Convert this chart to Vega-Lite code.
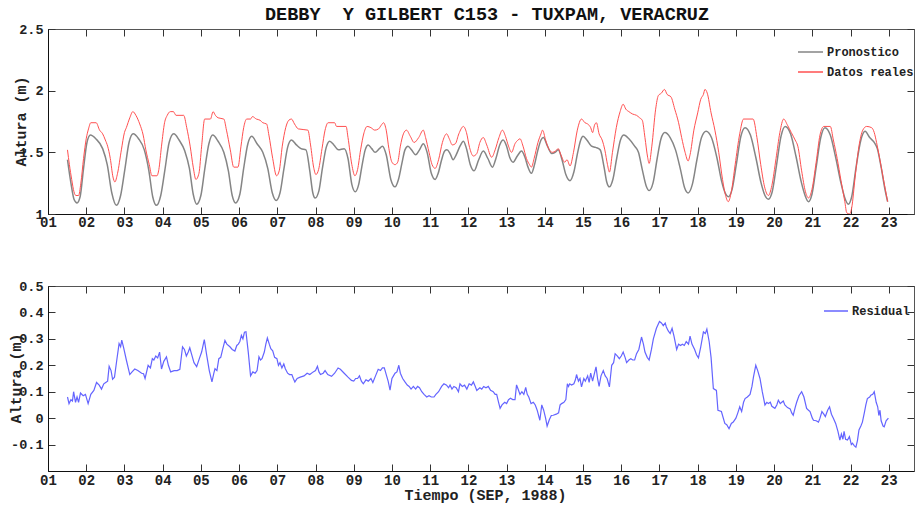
{
  "$schema": "https://vega.github.io/schema/vega-lite/v6.json",
  "padding": {"left": 7, "top": 4, "right": 0, "bottom": 0},
  "background": "white",
  "config": {
    "view": {"stroke": "#555"},
    "font": "Liberation Mono",
    "axis": {
      "grid": false,
      "domainColor": "#111",
      "tickColor": "#333",
      "tickSize": -7,
      "labelFont": "Liberation Mono",
      "labelFontWeight": "bold",
      "labelFontSize": 13.5,
      "labelColor": "#222",
      "labelFlush": false,
      "titleFont": "Liberation Mono",
      "titleFontWeight": "bold",
      "titleFontSize": 15,
      "titleColor": "#222"
    }
  },
  "datasets": {
    "pron": [
      {"t":1.51,"v":1.44},{"t":1.60,"v":1.25},{"t":1.68,"v":1.12},{"t":1.76,"v":1.09},{"t":1.84,"v":1.14},{"t":1.93,"v":1.37},{"t":2.02,"v":1.58},{"t":2.11,"v":1.64},{"t":2.25,"v":1.61},{"t":2.43,"v":1.53},{"t":2.55,"v":1.40},{"t":2.67,"v":1.17},{"t":2.79,"v":1.07},{"t":2.90,"v":1.15},{"t":3.01,"v":1.36},{"t":3.12,"v":1.58},{"t":3.23,"v":1.65},{"t":3.37,"v":1.61},{"t":3.52,"v":1.52},{"t":3.64,"v":1.35},{"t":3.74,"v":1.14},{"t":3.84,"v":1.07},{"t":3.95,"v":1.15},{"t":4.06,"v":1.36},{"t":4.17,"v":1.58},{"t":4.29,"v":1.65},{"t":4.43,"v":1.60},{"t":4.58,"v":1.51},{"t":4.70,"v":1.37},{"t":4.80,"v":1.16},{"t":4.89,"v":1.08},{"t":5.00,"v":1.15},{"t":5.10,"v":1.36},{"t":5.21,"v":1.57},{"t":5.31,"v":1.64},{"t":5.45,"v":1.59},{"t":5.60,"v":1.50},{"t":5.72,"v":1.35},{"t":5.82,"v":1.15},{"t":5.91,"v":1.09},{"t":6.02,"v":1.16},{"t":6.12,"v":1.37},{"t":6.23,"v":1.57},{"t":6.33,"v":1.63},{"t":6.47,"v":1.57},{"t":6.62,"v":1.50},{"t":6.75,"v":1.37},{"t":6.87,"v":1.17},{"t":6.97,"v":1.11},{"t":7.07,"v":1.17},{"t":7.17,"v":1.36},{"t":7.27,"v":1.54},{"t":7.37,"v":1.60},{"t":7.50,"v":1.56},{"t":7.62,"v":1.53},{"t":7.75,"v":1.52},{"t":7.85,"v":1.35},{"t":7.93,"v":1.17},{"t":7.99,"v":1.13},{"t":8.09,"v":1.19},{"t":8.18,"v":1.37},{"t":8.28,"v":1.54},{"t":8.37,"v":1.59},{"t":8.48,"v":1.56},{"t":8.60,"v":1.52},{"t":8.75,"v":1.53},{"t":8.85,"v":1.45},{"t":8.95,"v":1.24},{"t":9.04,"v":1.18},{"t":9.13,"v":1.24},{"t":9.21,"v":1.38},{"t":9.30,"v":1.52},{"t":9.38,"v":1.56},{"t":9.47,"v":1.53},{"t":9.56,"v":1.50},{"t":9.67,"v":1.53},{"t":9.75,"v":1.55},{"t":9.85,"v":1.48},{"t":9.97,"v":1.28},{"t":10.08,"v":1.22},{"t":10.17,"v":1.28},{"t":10.26,"v":1.41},{"t":10.34,"v":1.52},{"t":10.42,"v":1.55},{"t":10.51,"v":1.52},{"t":10.62,"v":1.48},{"t":10.72,"v":1.52},{"t":10.82,"v":1.57},{"t":10.92,"v":1.50},{"t":11.03,"v":1.33},{"t":11.13,"v":1.28},{"t":11.21,"v":1.33},{"t":11.30,"v":1.44},{"t":11.38,"v":1.51},{"t":11.44,"v":1.52},{"t":11.52,"v":1.49},{"t":11.60,"v":1.44},{"t":11.68,"v":1.48},{"t":11.78,"v":1.55},{"t":11.87,"v":1.59},{"t":11.95,"v":1.53},{"t":12.05,"v":1.40},{"t":12.15,"v":1.35},{"t":12.27,"v":1.44},{"t":12.39,"v":1.51},{"t":12.51,"v":1.45},{"t":12.63,"v":1.38},{"t":12.72,"v":1.45},{"t":12.82,"v":1.56},{"t":12.91,"v":1.60},{"t":13.00,"v":1.55},{"t":13.08,"v":1.46},{"t":13.17,"v":1.42},{"t":13.28,"v":1.47},{"t":13.39,"v":1.51},{"t":13.48,"v":1.46},{"t":13.56,"v":1.38},{"t":13.65,"v":1.33},{"t":13.73,"v":1.40},{"t":13.82,"v":1.52},{"t":13.90,"v":1.60},{"t":13.96,"v":1.62},{"t":14.07,"v":1.55},{"t":14.18,"v":1.49},{"t":14.27,"v":1.50},{"t":14.35,"v":1.52},{"t":14.45,"v":1.44},{"t":14.55,"v":1.32},{"t":14.66,"v":1.27},{"t":14.76,"v":1.34},{"t":14.86,"v":1.50},{"t":14.94,"v":1.60},{"t":15.00,"v":1.63},{"t":15.10,"v":1.60},{"t":15.22,"v":1.55},{"t":15.33,"v":1.54},{"t":15.45,"v":1.52},{"t":15.55,"v":1.38},{"t":15.62,"v":1.26},{"t":15.69,"v":1.22},{"t":15.78,"v":1.28},{"t":15.88,"v":1.45},{"t":15.98,"v":1.60},{"t":16.07,"v":1.64},{"t":16.20,"v":1.61},{"t":16.35,"v":1.55},{"t":16.45,"v":1.50},{"t":16.55,"v":1.36},{"t":16.65,"v":1.23},{"t":16.73,"v":1.19},{"t":16.83,"v":1.25},{"t":16.94,"v":1.45},{"t":17.04,"v":1.61},{"t":17.14,"v":1.66},{"t":17.28,"v":1.62},{"t":17.42,"v":1.52},{"t":17.55,"v":1.36},{"t":17.66,"v":1.21},{"t":17.75,"v":1.17},{"t":17.86,"v":1.24},{"t":17.98,"v":1.44},{"t":18.10,"v":1.62},{"t":18.22,"v":1.67},{"t":18.36,"v":1.62},{"t":18.50,"v":1.46},{"t":18.63,"v":1.26},{"t":18.72,"v":1.17},{"t":18.80,"v":1.14},{"t":18.90,"v":1.20},{"t":19.01,"v":1.40},{"t":19.13,"v":1.63},{"t":19.24,"v":1.70},{"t":19.38,"v":1.64},{"t":19.52,"v":1.46},{"t":19.66,"v":1.25},{"t":19.76,"v":1.15},{"t":19.85,"v":1.12},{"t":19.95,"v":1.18},{"t":20.06,"v":1.39},{"t":20.18,"v":1.63},{"t":20.29,"v":1.71},{"t":20.43,"v":1.65},{"t":20.57,"v":1.47},{"t":20.71,"v":1.26},{"t":20.81,"v":1.15},{"t":20.90,"v":1.10},{"t":20.99,"v":1.16},{"t":21.10,"v":1.38},{"t":21.22,"v":1.62},{"t":21.33,"v":1.70},{"t":21.47,"v":1.64},{"t":21.61,"v":1.46},{"t":21.75,"v":1.25},{"t":21.85,"v":1.13},{"t":21.94,"v":1.08},{"t":22.03,"v":1.14},{"t":22.14,"v":1.37},{"t":22.27,"v":1.60},{"t":22.38,"v":1.67},{"t":22.50,"v":1.62},{"t":22.62,"v":1.58},{"t":22.70,"v":1.53},{"t":22.80,"v":1.38},{"t":22.90,"v":1.20},{"t":22.97,"v":1.10}
    ],
    "real": [
      {"t":1.51,"v":1.52},{"t":1.56,"v":1.40},{"t":1.62,"v":1.28},{"t":1.68,"v":1.18},{"t":1.73,"v":1.15},{"t":1.80,"v":1.15},{"t":1.86,"v":1.25},{"t":1.93,"v":1.45},{"t":2.00,"v":1.61},{"t":2.06,"v":1.69},{"t":2.12,"v":1.74},{"t":2.26,"v":1.74},{"t":2.35,"v":1.68},{"t":2.43,"v":1.65},{"t":2.50,"v":1.60},{"t":2.56,"v":1.55},{"t":2.63,"v":1.45},{"t":2.70,"v":1.30},{"t":2.75,"v":1.26},{"t":2.82,"v":1.33},{"t":2.92,"v":1.52},{"t":3.00,"v":1.66},{"t":3.05,"v":1.70},{"t":3.14,"v":1.78},{"t":3.22,"v":1.83},{"t":3.30,"v":1.80},{"t":3.40,"v":1.73},{"t":3.49,"v":1.64},{"t":3.56,"v":1.52},{"t":3.65,"v":1.40},{"t":3.72,"v":1.31},{"t":3.85,"v":1.31},{"t":3.90,"v":1.36},{"t":3.97,"v":1.55},{"t":4.05,"v":1.74},{"t":4.12,"v":1.80},{"t":4.20,"v":1.83},{"t":4.28,"v":1.83},{"t":4.35,"v":1.80},{"t":4.55,"v":1.80},{"t":4.63,"v":1.70},{"t":4.72,"v":1.55},{"t":4.80,"v":1.38},{"t":4.87,"v":1.28},{"t":4.95,"v":1.33},{"t":5.02,"v":1.55},{"t":5.10,"v":1.77},{"t":5.25,"v":1.77},{"t":5.32,"v":1.83},{"t":5.38,"v":1.80},{"t":5.45,"v":1.78},{"t":5.60,"v":1.77},{"t":5.67,"v":1.68},{"t":5.77,"v":1.52},{"t":5.86,"v":1.38},{"t":5.97,"v":1.38},{"t":6.05,"v":1.55},{"t":6.12,"v":1.70},{"t":6.20,"v":1.77},{"t":6.30,"v":1.77},{"t":6.35,"v":1.79},{"t":6.45,"v":1.77},{"t":6.55,"v":1.76},{"t":6.62,"v":1.74},{"t":6.72,"v":1.73},{"t":6.78,"v":1.64},{"t":6.88,"v":1.45},{"t":6.98,"v":1.31},{"t":7.05,"v":1.35},{"t":7.13,"v":1.55},{"t":7.22,"v":1.70},{"t":7.30,"v":1.76},{"t":7.37,"v":1.77},{"t":7.45,"v":1.73},{"t":7.55,"v":1.69},{"t":7.80,"v":1.68},{"t":7.87,"v":1.56},{"t":7.95,"v":1.38},{"t":8.01,"v":1.32},{"t":8.08,"v":1.36},{"t":8.17,"v":1.53},{"t":8.25,"v":1.68},{"t":8.33,"v":1.74},{"t":8.50,"v":1.74},{"t":8.55,"v":1.71},{"t":8.80,"v":1.71},{"t":8.85,"v":1.62},{"t":8.95,"v":1.40},{"t":9.03,"v":1.31},{"t":9.10,"v":1.36},{"t":9.18,"v":1.52},{"t":9.27,"v":1.66},{"t":9.35,"v":1.71},{"t":9.45,"v":1.70},{"t":9.55,"v":1.68},{"t":9.65,"v":1.69},{"t":9.72,"v":1.72},{"t":9.78,"v":1.74},{"t":9.85,"v":1.68},{"t":9.92,"v":1.53},{"t":10.00,"v":1.42},{"t":10.08,"v":1.40},{"t":10.15,"v":1.42},{"t":10.22,"v":1.55},{"t":10.30,"v":1.65},{"t":10.38,"v":1.68},{"t":10.48,"v":1.63},{"t":10.58,"v":1.58},{"t":10.70,"v":1.62},{"t":10.82,"v":1.68},{"t":10.88,"v":1.62},{"t":10.97,"v":1.50},{"t":11.05,"v":1.40},{"t":11.13,"v":1.37},{"t":11.22,"v":1.44},{"t":11.32,"v":1.58},{"t":11.43,"v":1.65},{"t":11.50,"v":1.61},{"t":11.58,"v":1.56},{"t":11.66,"v":1.57},{"t":11.75,"v":1.65},{"t":11.87,"v":1.71},{"t":11.95,"v":1.66},{"t":12.03,"v":1.54},{"t":12.13,"v":1.47},{"t":12.22,"v":1.49},{"t":12.30,"v":1.58},{"t":12.39,"v":1.62},{"t":12.48,"v":1.56},{"t":12.61,"v":1.46},{"t":12.70,"v":1.52},{"t":12.80,"v":1.62},{"t":12.89,"v":1.68},{"t":12.97,"v":1.63},{"t":13.05,"v":1.55},{"t":13.13,"v":1.50},{"t":13.22,"v":1.57},{"t":13.30,"v":1.60},{"t":13.35,"v":1.61},{"t":13.43,"v":1.55},{"t":13.52,"v":1.45},{"t":13.60,"v":1.40},{"t":13.65,"v":1.38},{"t":13.72,"v":1.45},{"t":13.82,"v":1.58},{"t":13.90,"v":1.65},{"t":13.94,"v":1.68},{"t":14.02,"v":1.60},{"t":14.10,"v":1.53},{"t":14.20,"v":1.50},{"t":14.28,"v":1.51},{"t":14.35,"v":1.53},{"t":14.42,"v":1.48},{"t":14.52,"v":1.42},{"t":14.58,"v":1.44},{"t":14.66,"v":1.39},{"t":14.75,"v":1.50},{"t":14.85,"v":1.68},{"t":14.96,"v":1.77},{"t":15.05,"v":1.74},{"t":15.12,"v":1.73},{"t":15.20,"v":1.70},{"t":15.25,"v":1.66},{"t":15.30,"v":1.72},{"t":15.35,"v":1.74},{"t":15.42,"v":1.65},{"t":15.50,"v":1.60},{"t":15.57,"v":1.52},{"t":15.64,"v":1.40},{"t":15.69,"v":1.34},{"t":15.77,"v":1.50},{"t":15.87,"v":1.70},{"t":15.97,"v":1.83},{"t":16.05,"v":1.89},{"t":16.12,"v":1.85},{"t":16.20,"v":1.83},{"t":16.30,"v":1.81},{"t":16.40,"v":1.80},{"t":16.48,"v":1.78},{"t":16.55,"v":1.76},{"t":16.62,"v":1.62},{"t":16.69,"v":1.46},{"t":16.73,"v":1.41},{"t":16.80,"v":1.55},{"t":16.90,"v":1.85},{"t":16.97,"v":1.96},{"t":17.05,"v":1.98},{"t":17.13,"v":2.01},{"t":17.20,"v":1.97},{"t":17.30,"v":1.95},{"t":17.40,"v":1.85},{"t":17.50,"v":1.74},{"t":17.58,"v":1.62},{"t":17.67,"v":1.50},{"t":17.75,"v":1.43},{"t":17.80,"v":1.48},{"t":17.90,"v":1.68},{"t":18.00,"v":1.82},{"t":18.08,"v":1.93},{"t":18.15,"v":1.97},{"t":18.19,"v":2.01},{"t":18.25,"v":1.98},{"t":18.35,"v":1.82},{"t":18.45,"v":1.68},{"t":18.55,"v":1.50},{"t":18.65,"v":1.28},{"t":18.73,"v":1.15},{"t":18.80,"v":1.10},{"t":18.88,"v":1.18},{"t":18.98,"v":1.40},{"t":19.10,"v":1.65},{"t":19.20,"v":1.77},{"t":19.45,"v":1.77},{"t":19.55,"v":1.62},{"t":19.65,"v":1.40},{"t":19.75,"v":1.22},{"t":19.85,"v":1.15},{"t":19.94,"v":1.23},{"t":20.05,"v":1.45},{"t":20.15,"v":1.66},{"t":20.25,"v":1.77},{"t":20.35,"v":1.72},{"t":20.45,"v":1.66},{"t":20.55,"v":1.60},{"t":20.62,"v":1.55},{"t":20.72,"v":1.35},{"t":20.82,"v":1.18},{"t":20.90,"v":1.13},{"t":20.99,"v":1.20},{"t":21.10,"v":1.42},{"t":21.20,"v":1.64},{"t":21.30,"v":1.71},{"t":21.47,"v":1.71},{"t":21.55,"v":1.60},{"t":21.65,"v":1.45},{"t":21.75,"v":1.27},{"t":21.85,"v":1.10},{"t":21.90,"v":1.01},{"t":21.97,"v":1.00},{"t":22.03,"v":1.05},{"t":22.12,"v":1.30},{"t":22.22,"v":1.55},{"t":22.32,"v":1.68},{"t":22.42,"v":1.71},{"t":22.55,"v":1.70},{"t":22.62,"v":1.66},{"t":22.68,"v":1.58},{"t":22.75,"v":1.47},{"t":22.85,"v":1.30},{"t":22.97,"v":1.10}
    ],
    "resid": [
      {"t":1.51,"v":0.08},{"t":1.55,"v":0.055},{"t":1.60,"v":0.07},{"t":1.64,"v":0.065},{"t":1.67,"v":0.10},{"t":1.72,"v":0.06},{"t":1.76,"v":0.08},{"t":1.80,"v":0.06},{"t":1.85,"v":0.095},{"t":1.92,"v":0.085},{"t":1.98,"v":0.09},{"t":2.05,"v":0.055},{"t":2.12,"v":0.09},{"t":2.20,"v":0.105},{"t":2.27,"v":0.135},{"t":2.34,"v":0.125},{"t":2.40,"v":0.11},{"t":2.46,"v":0.13},{"t":2.51,"v":0.135},{"t":2.56,"v":0.14},{"t":2.60,"v":0.196},{"t":2.65,"v":0.18},{"t":2.69,"v":0.147},{"t":2.74,"v":0.155},{"t":2.80,"v":0.22},{"t":2.86,"v":0.282},{"t":2.90,"v":0.27},{"t":2.93,"v":0.295},{"t":2.98,"v":0.266},{"t":3.05,"v":0.22},{"t":3.14,"v":0.165},{"t":3.20,"v":0.175},{"t":3.27,"v":0.186},{"t":3.35,"v":0.18},{"t":3.45,"v":0.17},{"t":3.50,"v":0.168},{"t":3.54,"v":0.15},{"t":3.62,"v":0.20},{"t":3.68,"v":0.19},{"t":3.73,"v":0.225},{"t":3.77,"v":0.22},{"t":3.82,"v":0.235},{"t":3.87,"v":0.228},{"t":3.92,"v":0.25},{"t":3.97,"v":0.186},{"t":4.03,"v":0.215},{"t":4.10,"v":0.232},{"t":4.15,"v":0.20},{"t":4.21,"v":0.175},{"t":4.30,"v":0.18},{"t":4.38,"v":0.18},{"t":4.45,"v":0.185},{"t":4.52,"v":0.27},{"t":4.57,"v":0.26},{"t":4.62,"v":0.235},{"t":4.67,"v":0.25},{"t":4.71,"v":0.266},{"t":4.76,"v":0.24},{"t":4.82,"v":0.21},{"t":4.89,"v":0.195},{"t":4.96,"v":0.225},{"t":5.02,"v":0.25},{"t":5.09,"v":0.297},{"t":5.15,"v":0.24},{"t":5.22,"v":0.18},{"t":5.29,"v":0.137},{"t":5.34,"v":0.17},{"t":5.37,"v":0.187},{"t":5.42,"v":0.18},{"t":5.47,"v":0.225},{"t":5.52,"v":0.23},{"t":5.57,"v":0.26},{"t":5.63,"v":0.294},{"t":5.68,"v":0.28},{"t":5.76,"v":0.27},{"t":5.82,"v":0.26},{"t":5.89,"v":0.254},{"t":5.94,"v":0.275},{"t":5.98,"v":0.28},{"t":6.02,"v":0.29},{"t":6.06,"v":0.313},{"t":6.10,"v":0.30},{"t":6.14,"v":0.325},{"t":6.18,"v":0.327},{"t":6.24,"v":0.25},{"t":6.30,"v":0.16},{"t":6.36,"v":0.175},{"t":6.42,"v":0.17},{"t":6.47,"v":0.18},{"t":6.52,"v":0.232},{"t":6.56,"v":0.22},{"t":6.60,"v":0.225},{"t":6.66,"v":0.25},{"t":6.70,"v":0.28},{"t":6.74,"v":0.303},{"t":6.79,"v":0.28},{"t":6.83,"v":0.263},{"t":6.88,"v":0.255},{"t":6.93,"v":0.23},{"t":6.99,"v":0.225},{"t":7.03,"v":0.20},{"t":7.07,"v":0.21},{"t":7.12,"v":0.19},{"t":7.17,"v":0.205},{"t":7.21,"v":0.187},{"t":7.27,"v":0.17},{"t":7.32,"v":0.165},{"t":7.38,"v":0.165},{"t":7.42,"v":0.15},{"t":7.46,"v":0.137},{"t":7.52,"v":0.15},{"t":7.60,"v":0.155},{"t":7.70,"v":0.16},{"t":7.78,"v":0.17},{"t":7.85,"v":0.165},{"t":7.94,"v":0.175},{"t":8.00,"v":0.18},{"t":8.05,"v":0.196},{"t":8.09,"v":0.175},{"t":8.13,"v":0.165},{"t":8.20,"v":0.17},{"t":8.25,"v":0.18},{"t":8.32,"v":0.165},{"t":8.42,"v":0.158},{"t":8.50,"v":0.17},{"t":8.59,"v":0.19},{"t":8.65,"v":0.185},{"t":8.75,"v":0.17},{"t":8.85,"v":0.155},{"t":8.94,"v":0.143},{"t":9.00,"v":0.14},{"t":9.05,"v":0.15},{"t":9.10,"v":0.15},{"t":9.15,"v":0.16},{"t":9.20,"v":0.14},{"t":9.25,"v":0.13},{"t":9.32,"v":0.145},{"t":9.38,"v":0.14},{"t":9.45,"v":0.15},{"t":9.50,"v":0.135},{"t":9.57,"v":0.16},{"t":9.64,"v":0.185},{"t":9.70,"v":0.18},{"t":9.75,"v":0.19},{"t":9.80,"v":0.19},{"t":9.86,"v":0.16},{"t":9.90,"v":0.14},{"t":9.95,"v":0.106},{"t":10.00,"v":0.15},{"t":10.04,"v":0.16},{"t":10.08,"v":0.17},{"t":10.13,"v":0.175},{"t":10.18,"v":0.20},{"t":10.22,"v":0.17},{"t":10.28,"v":0.15},{"t":10.34,"v":0.137},{"t":10.40,"v":0.125},{"t":10.45,"v":0.12},{"t":10.50,"v":0.11},{"t":10.56,"v":0.12},{"t":10.62,"v":0.11},{"t":10.67,"v":0.12},{"t":10.72,"v":0.115},{"t":10.78,"v":0.10},{"t":10.84,"v":0.09},{"t":10.91,"v":0.08},{"t":10.97,"v":0.085},{"t":11.03,"v":0.08},{"t":11.10,"v":0.08},{"t":11.15,"v":0.09},{"t":11.22,"v":0.10},{"t":11.30,"v":0.12},{"t":11.36,"v":0.13},{"t":11.43,"v":0.125},{"t":11.48,"v":0.115},{"t":11.52,"v":0.125},{"t":11.57,"v":0.11},{"t":11.62,"v":0.12},{"t":11.68,"v":0.115},{"t":11.74,"v":0.10},{"t":11.78,"v":0.13},{"t":11.84,"v":0.12},{"t":11.90,"v":0.125},{"t":11.96,"v":0.11},{"t":12.02,"v":0.13},{"t":12.08,"v":0.125},{"t":12.13,"v":0.137},{"t":12.18,"v":0.12},{"t":12.22,"v":0.105},{"t":12.30,"v":0.115},{"t":12.35,"v":0.11},{"t":12.40,"v":0.12},{"t":12.46,"v":0.115},{"t":12.52,"v":0.12},{"t":12.58,"v":0.105},{"t":12.65,"v":0.10},{"t":12.70,"v":0.09},{"t":12.74,"v":0.09},{"t":12.79,"v":0.06},{"t":12.83,"v":0.037},{"t":12.88,"v":0.05},{"t":12.95,"v":0.06},{"t":13.00,"v":0.055},{"t":13.05,"v":0.07},{"t":13.10,"v":0.075},{"t":13.16,"v":0.07},{"t":13.22,"v":0.07},{"t":13.26,"v":0.126},{"t":13.30,"v":0.11},{"t":13.35,"v":0.09},{"t":13.40,"v":0.10},{"t":13.45,"v":0.09},{"t":13.50,"v":0.116},{"t":13.54,"v":0.09},{"t":13.58,"v":0.08},{"t":13.64,"v":0.055},{"t":13.70,"v":0.06},{"t":13.75,"v":0.05},{"t":13.80,"v":0.03},{"t":13.87,"v":-0.008},{"t":13.92,"v":0.05},{"t":13.97,"v":0.03},{"t":14.02,"v":0.0},{"t":14.06,"v":-0.03},{"t":14.12,"v":-0.005},{"t":14.17,"v":0.01},{"t":14.22,"v":0.011},{"t":14.30,"v":0.015},{"t":14.36,"v":0.02},{"t":14.40,"v":0.05},{"t":14.44,"v":0.055},{"t":14.50,"v":0.06},{"t":14.55,"v":0.07},{"t":14.59,"v":0.13},{"t":14.62,"v":0.12},{"t":14.65,"v":0.13},{"t":14.70,"v":0.125},{"t":14.76,"v":0.13},{"t":14.80,"v":0.145},{"t":14.83,"v":0.165},{"t":14.88,"v":0.14},{"t":14.92,"v":0.15},{"t":14.96,"v":0.118},{"t":15.02,"v":0.15},{"t":15.06,"v":0.14},{"t":15.12,"v":0.16},{"t":15.16,"v":0.135},{"t":15.20,"v":0.17},{"t":15.25,"v":0.14},{"t":15.30,"v":0.17},{"t":15.34,"v":0.194},{"t":15.38,"v":0.15},{"t":15.42,"v":0.12},{"t":15.47,"v":0.16},{"t":15.53,"v":0.18},{"t":15.58,"v":0.16},{"t":15.63,"v":0.15},{"t":15.69,"v":0.118},{"t":15.75,"v":0.20},{"t":15.80,"v":0.21},{"t":15.84,"v":0.244},{"t":15.90,"v":0.235},{"t":15.95,"v":0.225},{"t":16.00,"v":0.235},{"t":16.05,"v":0.25},{"t":16.10,"v":0.23},{"t":16.14,"v":0.21},{"t":16.20,"v":0.22},{"t":16.25,"v":0.225},{"t":16.30,"v":0.22},{"t":16.35,"v":0.22},{"t":16.40,"v":0.244},{"t":16.46,"v":0.26},{"t":16.53,"v":0.307},{"t":16.58,"v":0.28},{"t":16.62,"v":0.25},{"t":16.68,"v":0.23},{"t":16.73,"v":0.22},{"t":16.79,"v":0.26},{"t":16.84,"v":0.30},{"t":16.92,"v":0.34},{"t":17.00,"v":0.366},{"t":17.05,"v":0.36},{"t":17.10,"v":0.35},{"t":17.15,"v":0.36},{"t":17.18,"v":0.345},{"t":17.23,"v":0.33},{"t":17.28,"v":0.32},{"t":17.33,"v":0.34},{"t":17.38,"v":0.31},{"t":17.45,"v":0.26},{"t":17.50,"v":0.28},{"t":17.55,"v":0.275},{"t":17.60,"v":0.28},{"t":17.65,"v":0.275},{"t":17.70,"v":0.29},{"t":17.76,"v":0.28},{"t":17.80,"v":0.31},{"t":17.85,"v":0.28},{"t":17.92,"v":0.26},{"t":17.97,"v":0.24},{"t":18.02,"v":0.228},{"t":18.08,"v":0.27},{"t":18.15,"v":0.326},{"t":18.20,"v":0.32},{"t":18.24,"v":0.337},{"t":18.30,"v":0.29},{"t":18.35,"v":0.23},{"t":18.41,"v":0.112},{"t":18.49,"v":0.105},{"t":18.53,"v":0.03},{"t":18.62,"v":0.025},{"t":18.71,"v":-0.02},{"t":18.76,"v":-0.025},{"t":18.82,"v":-0.04},{"t":18.88,"v":-0.02},{"t":18.93,"v":-0.015},{"t":19.00,"v":0.0},{"t":19.05,"v":0.02},{"t":19.10,"v":0.043},{"t":19.15,"v":0.025},{"t":19.20,"v":0.06},{"t":19.24,"v":0.074},{"t":19.30,"v":0.08},{"t":19.37,"v":0.09},{"t":19.42,"v":0.12},{"t":19.46,"v":0.156},{"t":19.52,"v":0.20},{"t":19.57,"v":0.18},{"t":19.63,"v":0.15},{"t":19.69,"v":0.10},{"t":19.76,"v":0.05},{"t":19.81,"v":0.06},{"t":19.85,"v":0.055},{"t":19.90,"v":0.06},{"t":19.94,"v":0.045},{"t":20.02,"v":0.037},{"t":20.07,"v":0.05},{"t":20.11,"v":0.068},{"t":20.16,"v":0.055},{"t":20.20,"v":0.06},{"t":20.24,"v":0.065},{"t":20.28,"v":0.05},{"t":20.35,"v":0.04},{"t":20.42,"v":0.035},{"t":20.46,"v":0.02},{"t":20.50,"v":0.011},{"t":20.55,"v":0.04},{"t":20.59,"v":0.06},{"t":20.65,"v":0.085},{"t":20.72,"v":0.10},{"t":20.78,"v":0.08},{"t":20.85,"v":0.037},{"t":20.90,"v":0.03},{"t":20.94,"v":0.025},{"t":21.00,"v":0.0},{"t":21.03,"v":-0.008},{"t":21.10,"v":-0.01},{"t":21.16,"v":-0.015},{"t":21.20,"v":0.0},{"t":21.25,"v":0.025},{"t":21.30,"v":0.015},{"t":21.34,"v":0.006},{"t":21.40,"v":0.03},{"t":21.45,"v":0.043},{"t":21.50,"v":0.015},{"t":21.55,"v":0.0},{"t":21.61,"v":-0.02},{"t":21.67,"v":-0.05},{"t":21.72,"v":-0.083},{"t":21.76,"v":-0.06},{"t":21.80,"v":-0.08},{"t":21.83,"v":-0.05},{"t":21.87,"v":-0.08},{"t":21.92,"v":-0.083},{"t":21.97,"v":-0.07},{"t":22.02,"v":-0.10},{"t":22.05,"v":-0.095},{"t":22.10,"v":-0.105},{"t":22.14,"v":-0.11},{"t":22.18,"v":-0.085},{"t":22.22,"v":-0.045},{"t":22.27,"v":-0.03},{"t":22.31,"v":-0.015},{"t":22.36,"v":0.02},{"t":22.40,"v":0.05},{"t":22.44,"v":0.074},{"t":22.50,"v":0.08},{"t":22.53,"v":0.087},{"t":22.58,"v":0.09},{"t":22.62,"v":0.10},{"t":22.67,"v":0.06},{"t":22.71,"v":0.043},{"t":22.74,"v":0.01},{"t":22.77,"v":0.03},{"t":22.80,"v":-0.01},{"t":22.85,"v":-0.03},{"t":22.88,"v":-0.033},{"t":22.93,"v":-0.01},{"t":22.99,"v":0.0}
    ]
  },
  "spacing": 48,
  "resolve": {"scale": {"y": "independent", "color": "independent"}, "legend": {"color": "independent"}},
  "vconcat": [
    {
      "width": 866,
      "height": 185,
      "title": {"text": "DEBBY\u00a0 Y GILBERT C153 - TUXPAM, VERACRUZ", "font": "Liberation Mono", "fontSize": 18.5, "fontWeight": "bold", "color": "#111", "anchor": "middle", "baseline": "alphabetic", "offset": -16, "dx": 6},
      "layer": [
        {
          "data": {"name": "pron"},
          "mark": {"type": "line", "interpolate": "monotone", "strokeWidth": 1.5, "clip": true},
          "encoding": {
            "x": {"field": "t", "type": "quantitative", "scale": {"domain": [1, 23.66], "nice": false, "zero": false},
                  "axis": {"orient": "bottom", "values": [1,2,3,4,5,6,7,8,9,10,11,12,13,14,15,16,17,18,19,20,21,22,23], "labelExpr": "datum.value < 10 ? '0' + datum.value : '' + datum.value", "labelFontSize": 14, "labelPadding": 8, "title": null}},
            "y": {"field": "v", "type": "quantitative", "scale": {"domain": [1, 2.5], "nice": false, "zero": false},
                  "axis": {"orient": "left", "values": [1, 1.5, 2, 2.5], "format": "~g", "labelPadding": 12, "title": "Altura (m)", "titleX": -28, "titleY": 92, "titleBaseline": "middle"}},
            "color": {"datum": "Pronostico", "type": "nominal",
                      "scale": {"domain": ["Pronostico", "Datos reales"], "range": ["#858585", "#ff5050"]},
                      "legend": {"orient": "none", "legendX": 749, "legendY": 13, "title": null, "symbolType": "stroke", "symbolSize": 625, "symbolStrokeWidth": 1.3, "clipHeight": 20, "rowPadding": 0, "labelOffset": 3, "labelFont": "Liberation Mono", "labelFontWeight": "bold", "labelFontSize": 12, "labelColor": "#222", "padding": 0}}
          }
        },
        {
          "data": {"name": "real"},
          "mark": {"type": "line", "interpolate": "monotone", "strokeWidth": 1, "clip": true},
          "encoding": {
            "x": {"field": "t", "type": "quantitative", "axis": null},
            "y": {"field": "v", "type": "quantitative", "axis": null},
            "color": {"datum": "Datos reales", "type": "nominal"}
          }
        },
        {
          "data": {"name": "pron"},
          "mark": {"type": "line", "opacity": 0},
          "encoding": {
            "x": {"field": "t", "type": "quantitative", "axis": {"orient": "top", "values": [1,2,3,4,5,6,7,8,9,10,11,12,13,14,15,16,17,18,19,20,21,22,23], "labels": false, "title": null, "domainColor": "#555"}},
            "y": {"field": "v", "type": "quantitative", "axis": {"orient": "right", "values": [1, 1.5, 2, 2.5], "labels": false, "title": null, "domainColor": "#555"}}
          }
        }
      ],
      "resolve": {"axis": {"x": "independent", "y": "independent"}}
    },
    {
      "width": 866,
      "height": 185,
      "layer": [
        {
          "data": {"name": "resid"},
          "mark": {"type": "line", "strokeWidth": 1.2, "clip": true},
          "encoding": {
            "x": {"field": "t", "type": "quantitative", "scale": {"domain": [1, 23.66], "nice": false, "zero": false},
                  "axis": {"orient": "bottom", "values": [1,2,3,4,5,6,7,8,9,10,11,12,13,14,15,16,17,18,19,20,21,22,23], "labelExpr": "datum.value < 10 ? '0' + datum.value : '' + datum.value", "labelFontSize": 14, "labelPadding": 9, "title": "Tiempo (SEP, 1988)", "titleX": 437, "titleY": 23, "titleBaseline": "middle"}},
            "y": {"field": "v", "type": "quantitative", "scale": {"domain": [-0.2, 0.5], "nice": false, "zero": false},
                  "axis": {"orient": "left", "values": [-0.1, 0, 0.1, 0.2, 0.3, 0.4, 0.5], "labelExpr": "datum.value < 0 ? '-' + format(-datum.value, '.1~f') : format(datum.value, '.1~f')", "labelPadding": 12, "title": "Altura (m)", "titleX": -33, "titleY": 92, "titleBaseline": "middle"}},
            "color": {"datum": "Residual", "type": "nominal",
                      "scale": {"domain": ["Residual"], "range": ["#6464ff"]},
                      "legend": {"orient": "none", "legendX": 775, "legendY": 15, "title": null, "symbolType": "stroke", "symbolSize": 576, "symbolStrokeWidth": 1.3, "clipHeight": 20, "rowPadding": 0, "labelOffset": 3, "labelFont": "Liberation Mono", "labelFontWeight": "bold", "labelFontSize": 12, "labelColor": "#222", "padding": 0}}
          }
        },
        {
          "data": {"name": "resid"},
          "mark": {"type": "line", "opacity": 0},
          "encoding": {
            "x": {"field": "t", "type": "quantitative", "axis": {"orient": "top", "values": [1,2,3,4,5,6,7,8,9,10,11,12,13,14,15,16,17,18,19,20,21,22,23], "labels": false, "title": null, "domainColor": "#555"}},
            "y": {"field": "v", "type": "quantitative", "axis": {"orient": "right", "values": [-0.1, 0, 0.1, 0.2, 0.3, 0.4, 0.5], "labels": false, "title": null, "domainColor": "#555"}}
          }
        }
      ],
      "resolve": {"axis": {"x": "independent", "y": "independent"}}
    }
  ]
}
